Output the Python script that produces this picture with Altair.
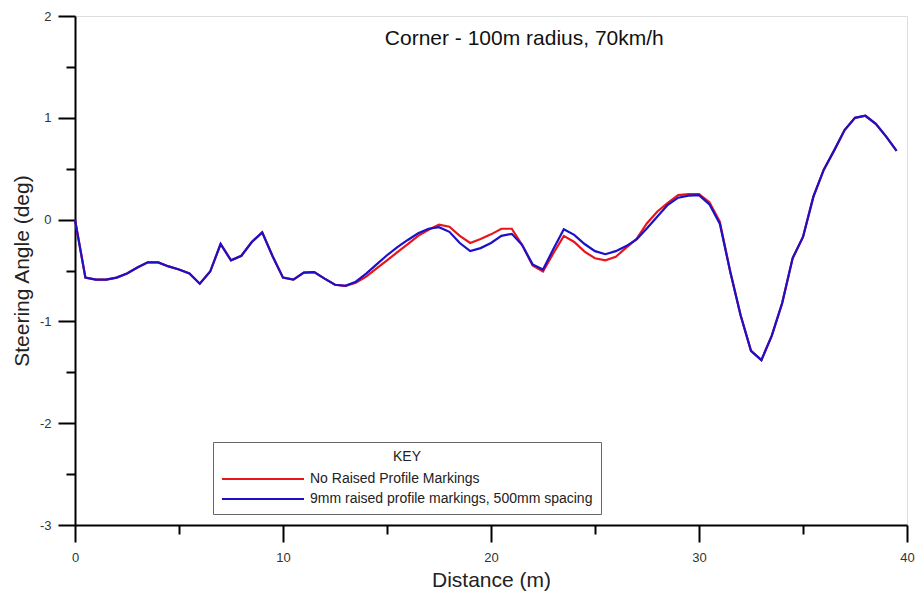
import altair as alt
import pandas as pd

distance = [i * 0.5 for i in range(80)]

blue = [0.0, -0.57, -0.59, -0.59, -0.57, -0.53, -0.47, -0.42, -0.42, -0.46,
        -0.49, -0.53, -0.63, -0.51, -0.24, -0.40, -0.355, -0.22, -0.125, -0.36,
        -0.57, -0.59, -0.52, -0.515, -0.58, -0.64, -0.65, -0.61, -0.53, -0.44,
        -0.35, -0.27, -0.20, -0.135, -0.09, -0.075, -0.12, -0.23, -0.31, -0.28,
        -0.23, -0.16, -0.14, -0.25, -0.44, -0.49, -0.29, -0.095, -0.15, -0.24,
        -0.31, -0.34, -0.31, -0.26, -0.195, -0.085, 0.03, 0.145, 0.215, 0.235,
        0.24, 0.15, -0.04, -0.51, -0.94, -1.29, -1.38, -1.14, -0.82, -0.38,
        -0.17, 0.225, 0.49, 0.68, 0.88, 1.00, 1.02, 0.94, 0.815, 0.675]

red = [0.0, -0.57, -0.59, -0.59, -0.57, -0.53, -0.47, -0.42, -0.42, -0.46,
       -0.49, -0.53, -0.63, -0.51, -0.24, -0.40, -0.355, -0.22, -0.125, -0.36,
       -0.57, -0.59, -0.52, -0.515, -0.58, -0.64, -0.65, -0.62, -0.56, -0.48,
       -0.40, -0.32, -0.24, -0.16, -0.10, -0.05, -0.07, -0.16, -0.23, -0.19,
       -0.145, -0.09, -0.09, -0.25, -0.45, -0.51, -0.33, -0.16, -0.22, -0.315,
       -0.38, -0.40, -0.365, -0.275, -0.19, -0.036, 0.08, 0.165, 0.24, 0.25,
       0.25, 0.17, -0.02, -0.51, -0.94, -1.29, -1.38, -1.14, -0.82, -0.38,
       -0.17, 0.225, 0.49, 0.68, 0.88, 1.00, 1.02, 0.94, 0.815, 0.675]

series_names = ["No Raised Profile Markings", "9mm raised profile markings, 500mm spacing"]
series_colors = ["#e8161c", "#1c10c8"]
title_text = "Corner - 100m radius, 70km/h"
x_major = [0, 10, 20, 30, 40]
x_minor = [5, 15, 25, 35]
y_major = [-3, -2, -1, 0, 1, 2]
y_minor = [-2.5, -1.5, -0.5, 0.5, 1.5]

rows = []
for k, vals in enumerate([red, blue]):
    for d, v in zip(distance, vals):
        rows.append({"series": series_names[k], "order": k, "distance": d, "angle": v})
df = pd.DataFrame(rows)

FONT = "Liberation Sans"
x_scale = alt.Scale(domain=[0, 40], nice=False)
y_scale = alt.Scale(domain=[-3, 2], nice=False)

x_axis = alt.Axis(
    values=x_major, orient="bottom", tickSize=17,
    labelExpr="'' + datum.value",
    tickColor="black", tickWidth=2, domainColor="black", domainWidth=2,
    labelFont=FONT, labelFontSize=13, labelColor="#333333", labelPadding=9,
    title="Distance (m)", titleFont=FONT, titleFontSize=21, titleFontWeight="normal",
    titleColor="#222222", titleY=61, titleBaseline="alphabetic",
    grid=False, labelFlush=False,
)
y_axis = alt.Axis(
    values=y_major, orient="left", tickSize=17,
    labelExpr="'' + datum.value",
    tickColor="black", tickWidth=2, domainColor="black", domainWidth=2,
    labelFont=FONT, labelFontSize=13, labelColor="#333333", labelPadding=7,
    title="Steering Angle (deg)", titleFont=FONT, titleFontSize=21, titleFontWeight="normal",
    titleColor="#222222", titleX=-53, titleBaseline="middle",
    grid=False, labelFlush=False,
)
x_axis_minor = alt.Axis(
    values=x_minor, orient="bottom", tickSize=9, tickColor="black", tickWidth=2,
    labels=False, domain=False, title=None, grid=False,
)
y_axis_minor = alt.Axis(
    values=y_minor, orient="left", tickSize=9, tickColor="black", tickWidth=2,
    labels=False, domain=False, title=None, grid=False,
)

lines = alt.Chart(df).mark_line(strokeWidth=2.2).encode(
    x=alt.X("distance:Q", scale=x_scale, axis=x_axis),
    y=alt.Y("angle:Q", scale=y_scale, axis=y_axis),
    color=alt.Color(
        "series:N",
        scale=alt.Scale(domain=series_names, range=series_colors),
        legend=alt.Legend(
            title="KEY", orient="none", legendX=138, legendY=426,
            titleAnchor="middle", titleFont=FONT, titleFontSize=14, titleFontWeight="normal",
            titleColor="#222222", titlePadding=7,
            labelFont=FONT, labelFontSize=14, labelColor="#222222", labelLimit=0,
            symbolType="M-5.86,0H5.86", symbolSize=196, symbolStrokeWidth=2,
            symbolOffset=34, labelOffset=39, rowPadding=5,
            padding=8, strokeColor="#666666", fillColor="white",
        ),
    ),
    order="order:Q",
    detail="series:N",
)

title = alt.Chart(pd.DataFrame({"t": [title_text]})).mark_text(
    font=FONT, fontSize=21, color="#111111", align="center", baseline="middle"
).encode(
    x=alt.X(datum=21.6, scale=x_scale, axis=x_axis_minor),
    y=alt.Y(datum=1.77, scale=y_scale, axis=y_axis_minor),
    text="t:N",
)

chart = alt.layer(lines, title).resolve_axis(x="independent", y="independent").properties(
    width=832, height=509,
    autosize=alt.AutoSizeParams(type="none"),
    padding={"left": 75, "top": 16, "right": 10, "bottom": 69},
).configure_view(stroke="black", strokeWidth=2).configure(background="white")

chart.save("out.html", embed_options={"renderer": "svg", "actions": False})
